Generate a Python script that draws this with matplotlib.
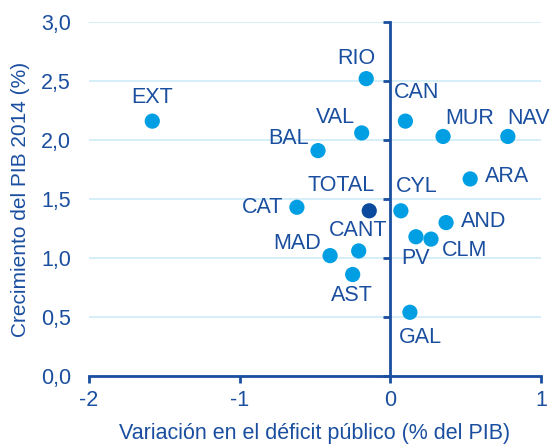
import matplotlib
matplotlib.use("Agg")
import matplotlib.pyplot as plt

plt.rcParams['font.family'] = ['Liberation Sans', 'DejaVu Sans']

regiones = ["EXT", "RIO", "CAN", "VAL", "MUR", "NAV", "BAL", "ARA", "CAT", "TOTAL",
            "CYL", "AND", "PV", "CLM", "CANT", "MAD", "AST", "GAL"]
deficit = [-1.58, -0.16, 0.10, -0.19, 0.35, 0.78, -0.48, 0.53, -0.62, -0.14,
           0.07, 0.37, 0.17, 0.27, -0.21, -0.40, -0.25, 0.13]
pib = [2.16, 2.52, 2.16, 2.06, 2.03, 2.03, 1.91, 1.67, 1.43, 1.40,
       1.40, 1.30, 1.18, 1.16, 1.06, 1.02, 0.86, 0.54]

# label offsets in pixels (dx, dy)
offs = {"EXT": (0, 24), "RIO": (-10, 20), "CAN": (11, 29), "VAL": (-26, 15),
        "MUR": (27, 18), "NAV": (21, 18), "BAL": (-29, 12), "ARA": (37, 2),
        "CAT": (-34, 0), "TOTAL": (-28, 25), "CYL": (16, 24), "AND": (38, 1),
        "PV": (0, -22), "CLM": (34, -11), "CANT": (-1, 20), "MAD": (-33, 12),
        "AST": (-1, -21), "GAL": (11, -25)}

azul = "#1A4E9F"
claro = "#009FE3"
oscuro = "#0B4A9C"

fig = plt.figure(figsize=(5.51, 4.46), dpi=100)
ax = fig.add_axes([89/551, 70/446, 452/551, 354/446])

colores = [oscuro if r == "TOTAL" else claro for r in regiones]
ax.scatter(deficit, pib, s=120, c=colores, zorder=3, linewidths=0, clip_on=False)

for r, x, y in zip(regiones, deficit, pib):
    dx, dy = offs[r]
    t = ax.annotate(r, (x, y), xytext=(dx, dy), textcoords="offset pixels",
                    ha="center", va="center", fontsize=15.5, color=azul)
    t.set_clip_box(fig.bbox)
    t.set_clip_on(True)

ax.set_xlim(-2, 1)
ax.set_ylim(0, 3)
ax.set_xticks([-2, -1, 0, 1])
ax.set_xticklabels(["-2", "-1", "0", "1"])
ax.set_yticks([0, 0.5, 1, 1.5, 2, 2.5, 3])

ax.grid(axis="y", color="#CDEBF7", linewidth=1.2, zorder=0)
ax.set_axisbelow(True)

for s in ["top", "right"]:
    ax.spines[s].set_visible(False)
for s in ["bottom", "left"]:
    ax.spines[s].set_color(azul)
    ax.spines[s].set_linewidth(2)
ax.spines["left"].set_position(("data", 0))
ax.tick_params(axis="x", colors=azul, length=5, width=2, labelsize=15.5, pad=5)
ax.tick_params(axis="y", colors=azul, length=5, width=2, labelleft=False)

# tick labels of the y axis stay on the left edge
sec = ax.secondary_yaxis("left")
sec.set_yticks([0, 0.5, 1, 1.5, 2, 2.5, 3])
sec.set_yticklabels(["0,0", "0,5", "1,0", "1,5", "2,0", "2,5", "3,0"])
sec.spines["left"].set_visible(False)
sec.tick_params(axis="y", length=0, labelsize=15.5, labelcolor=azul, pad=13)
sec.set_ylabel("Crecimiento del PIB 2014 (%)", fontsize=15, color=azul, labelpad=8)

ax.set_xlabel("Variación en el déficit público (% del PIB)", fontsize=15.5, color=azul, labelpad=9)

fig.savefig("out.png", dpi=100)
